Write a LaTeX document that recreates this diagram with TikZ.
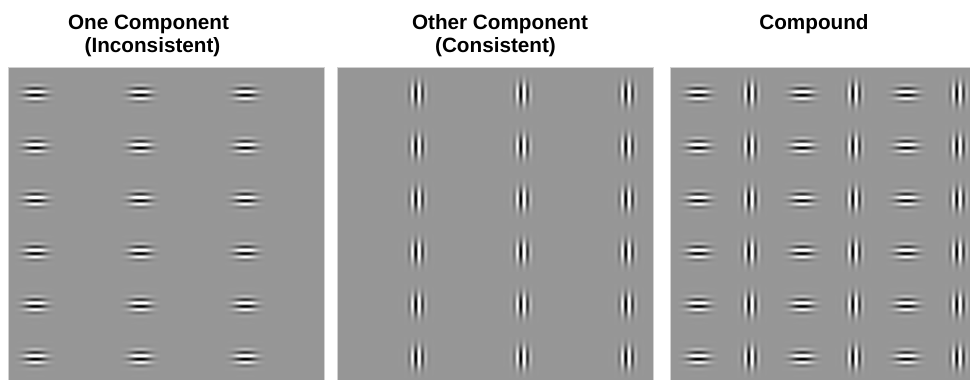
\documentclass[tikz,border=0pt]{standalone}
\usepackage{fontspec}
\setmainfont{Liberation Sans}

% Gabor patches as PostScript-function shadings. The shading's middle
% 50bp is stretched over a 40px patch, so 1bp of domain = 0.8px.
% Grey level = 0.59 + 0.7 * sin(carrier) * elliptical Gaussian envelope
% (period 7px, sigma 5px across the bars, 7px along them).
\pgfdeclarefunctionalshading{gaborH}{\pgfpointorigin}{\pgfpoint{100bp}{100bp}}{}{
  50 sub 0.8 mul exch 50 sub 0.8 mul exch
  2 copy dup mul 0.02 mul exch dup mul 0.0102 mul add
  neg 2.71828 exch exp
  exch 51.43 mul sin mul
  0.7 mul 0.59 add
  exch pop dup dup
}
\pgfdeclarefunctionalshading{gaborV}{\pgfpointorigin}{\pgfpoint{100bp}{100bp}}{}{
  50 sub 0.8 mul exch 50 sub 0.8 mul
  2 copy dup mul 0.02 mul exch dup mul 0.0102 mul add
  neg 2.71828 exch exp
  exch 51.43 mul sin mul
  0.7 mul 0.59 add
  exch pop dup dup
}

\definecolor{panelgray}{gray}{0.59}
\definecolor{edgegray}{gray}{0.82}

\begin{document}
\begin{tikzpicture}[x=1pt,y=-1pt,
  title/.style={anchor=base,inner sep=0pt,font=\fontsize{20.7}{23}\selectfont\bfseries},
  panel/.style={fill=panelgray,draw=edgegray,line width=0.8pt},
  gh/.style={shading=gaborH},
  gv/.style={shading=gaborV}]
  \useasboundingbox (0,0) rectangle (970,380);
  \clip (0,0) rectangle (970,380);

  % column titles
  \node[title] (t1a) at (148.5,29.5) {One Component};
  \node[title] (t1b) at (152.5,52) {(Inconsistent)};
  \node[title] (t2a) at (500,29.5) {Other Component};
  \node[title] (t2b) at (495.5,52) {(Consistent)};
  \node[title] (t3a) at (814,29.5) {Compound};

  % grey stimulus fields
  \path[panel] (8,67) rectangle (324,390);
  \path[panel] (337,67) rectangle (653,390);
  \path[panel] (670,67) rectangle (986,390);

  % horizontal gratings only
  \foreach \r in {0,...,5}
    \foreach \c in {0,1,2}
      \shade[gh] ({35+105*\c-20},{93+52.8*\r-20}) rectangle +(40,40);

  % vertical gratings only
  \foreach \r in {0,...,5}
    \foreach \c in {0,1,2}
      \shade[gv] ({417+105*\c-20},{93+52.8*\r-20}) rectangle +(40,40);

  % compound: alternating horizontal and vertical
  \foreach \r in {0,...,5}
    \foreach \c in {0,1,2} {
      \shade[gh] ({698+104*\c-20},{93+52.8*\r-20}) rectangle +(40,40);
      \shade[gv] ({750+104*\c-20},{93+52.8*\r-20}) rectangle +(40,40);
    }
\end{tikzpicture}
\end{document}
